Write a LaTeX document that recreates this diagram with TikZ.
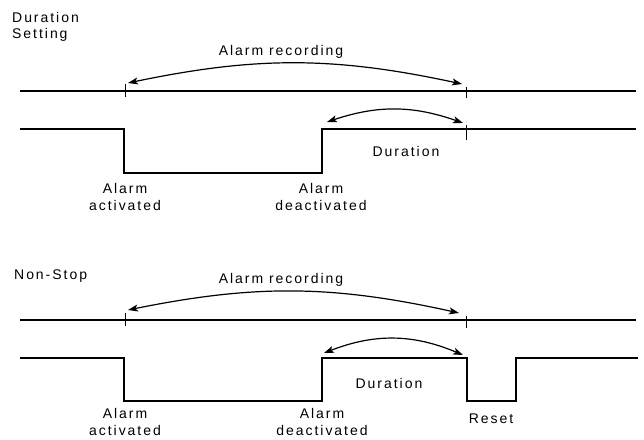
\documentclass[tikz,border=0pt]{standalone}
\usepackage{fontspec}
\setmainfont{Liberation Sans}[LetterSpace=14]
\usetikzlibrary{arrows.meta}

\begin{document}
\begin{tikzpicture}[x=1pt,y=-1pt,>={Stealth[length=10pt,width=7pt,inset=2.5pt]},
        every node/.style={font=\fontsize{14}{17.5}\selectfont,inner sep=0pt,align=center},
        timeline/.style={line width=1.6pt},
        signal/.style={line width=2.6pt,line join=miter},
        tickmark/.style={line width=0.9pt},
        span/.style={<->,line width=1.2pt,bend left=#1}]
      \useasboundingbox (0,0) rectangle (644,439);

      % --- duration setting ---
      \node[anchor=west] (title1) at (12,17) {Duration};
      \node[anchor=west] (title1b) at (12,35) {Setting};
      \node (rec1) at (281,52) {Alarm recording};

      \coordinate (a1l) at (128,83);
      \coordinate (a1r) at (462,84);
      \draw[timeline] (20,91) -- (636,91);
      \draw[tickmark] (125,84) -- (125,97);
      \draw[tickmark] (466,87) -- (466,98);
      \draw[span=12] (a1l) to (a1r);

      \draw[signal] (20,129) -| (124,173) -| (322,129) -- (636,129);
      \draw[tickmark] (466,125) -- (466,140);
      \coordinate (d1l) at (327,122);
      \coordinate (d1r) at (463,123);
      \draw[span=19] (d1l) to (d1r);
      \node (dur1) at (406,151) {Duration};

      \node (on1) at (125,197) {Alarm\\activated};
      \node (off1) at (321,197) {Alarm\\deactivated};

      % --- non-stop ---
      \node[anchor=west] (title2) at (14,276) {Non-Stop};
      \node (rec2) at (281,280) {Alarm recording};

      \coordinate (a2l) at (128,310);
      \coordinate (a2r) at (459,313);
      \draw[timeline] (20,320) -- (636,320);
      \draw[tickmark] (125,313) -- (125,326);
      \draw[tickmark] (466,316) -- (466,328);
      \draw[span=12] (a2l) to (a2r);

      \draw[signal] (20,358) -| (124,401) -| (322,358) -| (467,401) -| (516,358) -- (638,358);
      \coordinate (d2l) at (324,353);
      \coordinate (d2r) at (463,355);
      \draw[span=22] (d2l) to (d2r);
      \node (dur2) at (389,383) {Duration};

      \node (on2) at (125,422) {Alarm\\activated};
      \node (off2) at (322,422) {Alarm\\deactivated};
      \node (reset) at (491,419) {Reset};
    \end{tikzpicture}
\end{document}
